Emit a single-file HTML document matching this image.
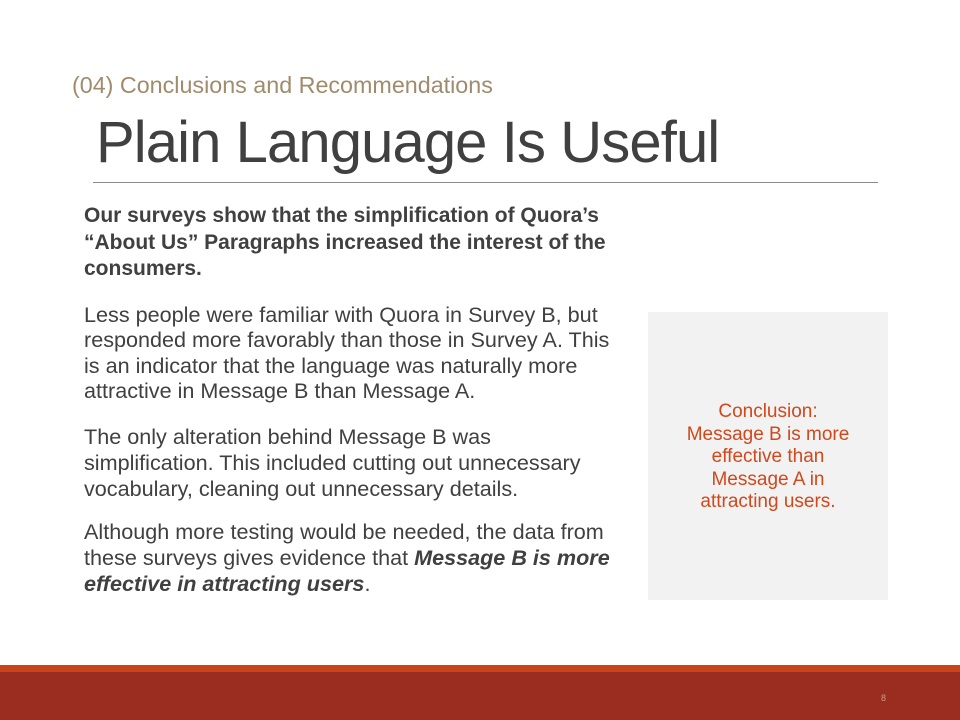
<!DOCTYPE html>
<html><head><meta charset="utf-8"><style>
body{margin:0;width:960px;height:720px;position:relative;background:#fff;overflow:hidden;font-family:"Liberation Sans",sans-serif}
.l{position:absolute;white-space:nowrap;line-height:1}
.b{left:84px;font-size:21.6px;color:#404040}
.c{position:absolute;left:648px;width:240px;text-align:center;font-size:19px;color:#d0481c;line-height:1}
</style></head><body>
<div class="l" style="left:72px;top:74px;font-size:23.3px;color:#a08c6c">(04) Conclusions and Recommendations</div>
<div class="l" style="left:96px;top:114px;font-size:58px;color:#404040;letter-spacing:-0.9px">Plain Language Is Useful</div>
<div style="position:absolute;left:93px;top:182px;width:785px;height:1px;background:#8a8a8a"></div>
<div>
<div class="l b" style="top:205px;font-weight:bold;font-size:21px">Our surveys show that the simplification of Quora’s</div>
<div class="l b" style="top:232px;font-weight:bold;font-size:21px">“About Us” Paragraphs increased the interest of the</div>
<div class="l b" style="top:258px;font-weight:bold;font-size:21px">consumers.</div>
<div class="l b" style="top:304px">Less people were familiar with Quora in Survey B, but</div>
<div class="l b" style="top:329px">responded more favorably than those in Survey A. This</div>
<div class="l b" style="top:355px">is an indicator that the language was naturally more</div>
<div class="l b" style="top:380px">attractive in Message B than Message A.</div>
<div class="l b" style="top:426px">The only alteration behind Message B was</div>
<div class="l b" style="top:452px">simplification. This included cutting out unnecessary</div>
<div class="l b" style="top:478px">vocabulary, cleaning out unnecessary details.</div>
<div class="l b" style="top:521px">Although more testing would be needed, the data from</div>
<div class="l b" style="top:547px">these surveys gives evidence that <b><i>Message B is more</i></b></div>
<div class="l b" style="top:573px"><b><i>effective in attracting users</i></b>.</div>
</div>
<div style="position:absolute;left:648px;top:312px;width:240px;height:288px;background:#f2f2f2"></div>
<div>
<div class="c" style="top:402px">Conclusion:</div>
<div class="c" style="top:425px">Message B is more</div>
<div class="c" style="top:447px">effective than</div>
<div class="c" style="top:470px">Message A in</div>
<div class="c" style="top:492px">attracting users.</div>
</div>
<div style="position:absolute;left:0;top:665px;width:960px;height:7px;background:#c9441b"></div>
<div style="position:absolute;left:0;top:672px;width:960px;height:48px;background:#9b2d20"></div>
<div class="l" style="left:881px;top:694px;font-size:9px;color:#c8a090">8</div>
</body></html>
